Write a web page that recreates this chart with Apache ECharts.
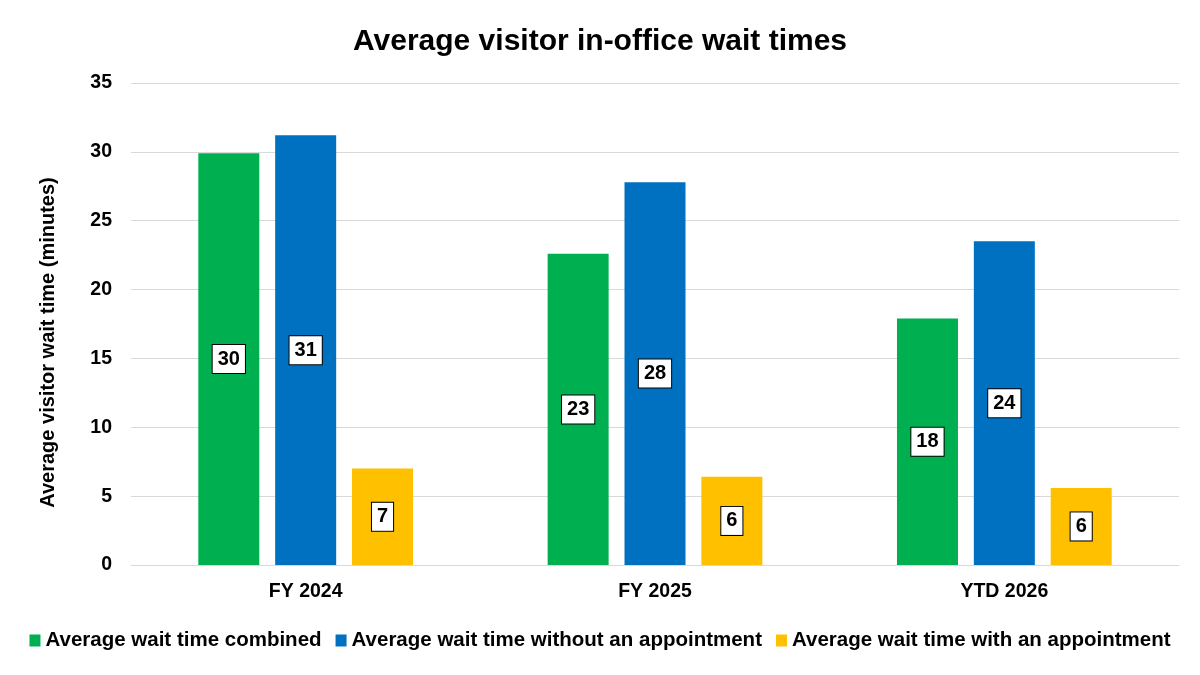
<!DOCTYPE html>
<html>
<head>
<meta charset="utf-8">
<script src="https://cdn.jsdelivr.net/npm/echarts@6/dist/echarts.min.js"></script>
<style>
html,body{margin:0;padding:0;background:#fff;}
#main{width:1200px;height:675px;}
</style>
</head>
<body>
<div id="main"></div>
<script>
// data
var categories = ['FY 2024', 'FY 2025', 'YTD 2026'];
var seriesNames = ['Average wait time combined', 'Average wait time without an appointment', 'Average wait time with an appointment'];
var combined = [29.9, 22.6, 17.9];
var withoutAppt = [31.2, 27.8, 23.5];
var withAppt = [7.0, 6.4, 5.6];
var colors = ['#00B050', '#0070C0', '#FFC000'];

var FONT = '"Liberation Sans", Arial, sans-serif';

var chart = echarts.init(document.getElementById('main'));

function makeSeries(name, data, color) {
	return {
		name: name,
		type: 'bar',
		data: data,
		barWidth: 61,
		barGap: '26%',
		itemStyle: { color: color },
		label: {
			show: true,
			position: 'inside',
			formatter: function (p) { return Math.round(p.value); },
			color: '#000',
			fontFamily: FONT,
			fontWeight: 'bold',
			fontSize: 20,
			lineHeight: 22,
			backgroundColor: '#fff',
			borderColor: '#000',
			borderWidth: 1,
			padding: [3, 5, 3, 5]
		}
	};
}

var option = {
	backgroundColor: '#fff',
	textStyle: { fontFamily: FONT },
	title: {
		text: 'Average visitor in-office wait times',
		left: 'center',
		top: 22,
		textStyle: { fontFamily: FONT, fontWeight: 'bold', fontSize: 30, color: '#000' }
	},
	legend: {
		bottom: 19,
		left: 'center',
		itemWidth: 11,
		itemHeight: 12,
		itemGap: 14,
		icon: 'rect',
		textStyle: { fontFamily: FONT, fontWeight: 'bold', fontSize: 20.5, color: '#000' },
		data: seriesNames
	},
	grid: { left: 131, right: 21, top: 83, bottom: 110 },
	xAxis: {
		type: 'category',
		data: categories,
		axisLine: { lineStyle: { color: '#d9d9d9' } },
		axisTick: { show: false },
		axisLabel: { color: '#000', fontFamily: FONT, fontWeight: 'bold', fontSize: 19.5, margin: 17 }
	},
	yAxis: {
		type: 'value',
		min: 0,
		max: 35,
		interval: 5,
		name: 'Average visitor wait time (minutes)',
		nameLocation: 'middle',
		nameGap: 73,
		nameTextStyle: { color: '#000', fontFamily: FONT, fontWeight: 'bold', fontSize: 20, padding: [0, 37, 0, 0] },
		axisLine: { show: false },
		axisTick: { show: false },
		axisLabel: { color: '#000', fontFamily: FONT, fontWeight: 'bold', fontSize: 19.5, margin: 19 },
		splitLine: { lineStyle: { color: '#d9d9d9' } }
	},
	series: [
		makeSeries(seriesNames[0], combined, colors[0]),
		makeSeries(seriesNames[1], withoutAppt, colors[1]),
		makeSeries(seriesNames[2], withAppt, colors[2])
	]
};

chart.setOption(option);
</script>
</body>
</html>
